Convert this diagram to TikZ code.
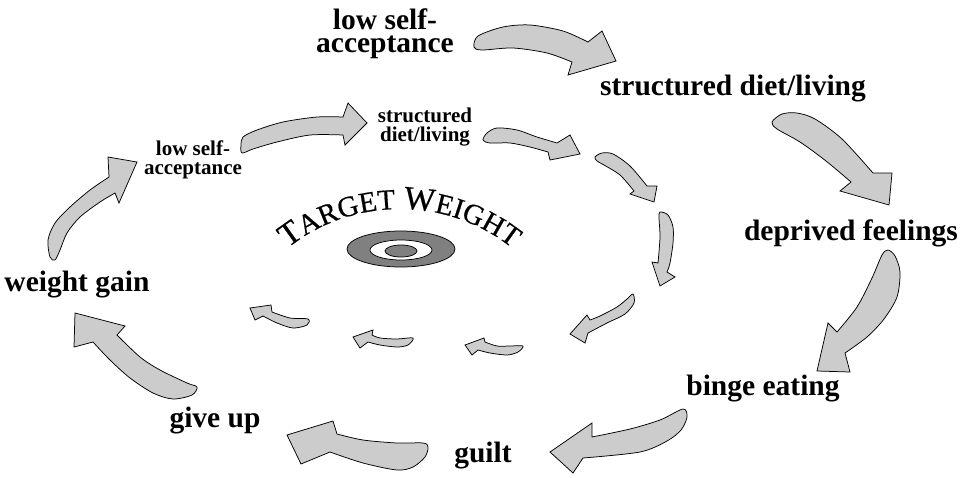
\documentclass[tikz,border=0pt]{standalone}
\usepackage{fontspec}
\setmainfont{Liberation Serif}
\newfontfamily\tgtfont[FakeBold=0.6]{Liberation Serif}
\usetikzlibrary{decorations.text}
\definecolor{arrgray}{gray}{0.8}
\definecolor{tgtgray}{gray}{0.5}
\tikzset{
  arr/.style={draw=black, line width=0.75pt, fill=arrgray, line join=miter},
  biglabel/.style={font=\fontsize{29.5}{23}\selectfont\bfseries, inner sep=0pt, align=center},
  smalllabel/.style={font=\fontsize{21}{19.5}\selectfont\bfseries, inner sep=0pt, align=center},
  ring/.style={draw=black, line width=0.75pt}
}
\begin{document}
\begin{tikzpicture}[x=1pt,y=-1pt]
\useasboundingbox (0,0) rectangle (971,477);

% ---------- labels ----------
\node[biglabel] (lsaBig) at (385,34) {low self-\\acceptance};
\node[biglabel, anchor=base] (sdlBig) at (733,95) {structured diet/living};
\node[biglabel, anchor=base] (dep) at (851,240) {deprived feelings};
\node[biglabel, anchor=base] (binge) at (763,395) {binge eating};
\node[biglabel, anchor=base] (guilt) at (483,462) {guilt};
\node[biglabel, anchor=base] (giveup) at (215,427) {give up};
\node[biglabel, anchor=base] (wgain) at (77,291) {weight gain};
\node[smalllabel] (lsaSmall) at (193,160) {low self-\\acceptance};
\node[smalllabel] (sdlSmall) at (425,127) {structured\\diet/living};

% ---------- target ----------
\draw[ring, fill=tgtgray] (401,249) ellipse [x radius=54pt, y radius=18pt];
\draw[ring, fill=white] (401,250) ellipse [x radius=31pt, y radius=10pt];
\draw[ring, fill=tgtgray] (401,251) ellipse [x radius=16pt, y radius=6pt];
\path[decorate, decoration={text along path, text align=center,
   text={|\tgtfont\fontsize{33}{35}\selectfont|T|\tgtfont\fontsize{29}{31}\selectfont|ARGET |\tgtfont\fontsize{33}{35}\selectfont|W|\tgtfont\fontsize{29}{31}\selectfont|EIGHT}}]
   (262.1,273.3) .. controls (334.0,187.6) and (466.0,187.6) .. (537.9,273.3);

% ---------- outer arrows ----------
% A1 acceptance -> structured diet/living
\draw[arr] plot[smooth] coordinates {(572,62) (547,53) (513,48) (482,50) (474,47) (478,36) (503,27) (530,25) (563,31) (588,42)}
  -- (602,31) -- (616,61) -- (568,75) -- cycle;
% A2 structured -> deprived
\draw[arr] plot[smooth] coordinates {(851,182) (826,161) (800,142) (777,129) (772,122) (782,114) (797,113) (815,119) (842,139) (873,173)}
  -- (892,173) -- (889,205) -- (840,191) -- cycle;
% A3 deprived -> binge
\draw[arr] plot[smooth] coordinates {(845,353) (867,337) (884,319) (897,297) (900,272) (895,256) (888,250) (882,255) (872,278) (857,307) (837,332)}
  -- (828,323) -- (817,371) -- (850,372) -- cycle;
% A4 binge -> guilt
\draw[arr] plot[smooth] coordinates {(583,458) (640,452) (667,441) (681,430) (687,417) (683,409) (660,420) (630,429) (592,437)}
  -- (592,423) -- (550,452) -- (573,473) -- cycle;
% A5 guilt -> give up
\draw[arr] plot[smooth] coordinates {(330,452) (363,463) (397,470) (413,467) (425,457) (428,447) (423,443) (397,443) (363,440) (337,434)}
  -- (333,421) -- (287,435) -- (301,464) -- cycle;
% A6 give up -> weight gain
\draw[arr] plot[smooth] coordinates {(93,342) (110,360) (130,378) (153,393) (173,399) (192,395) (197,387) (187,383) (160,370) (140,357) (117,335)}
  -- (125,326) -- (75,313) -- (74,347) -- cycle;
% A7 weight gain -> low self-acceptance (small)
\draw[arr] plot[smooth] coordinates {(115,193) (100,202) (80,217) (67,233) (60,250) (55,260) (50,257) (48,240) (55,223) (70,207) (90,190) (109,177)}
  -- (108,157) -- (137,162) -- (119,203) -- cycle;
% A8 acceptance (small) -> structured (small)
\draw[arr] plot[smooth] coordinates {(343,135) (310,135) (277,142) (253,149) (242,153) (241,145) (243,137) (257,130) (283,122) (317,117) (343,117)}
  -- (348,103) -- (367,123) -- (345,145) -- cycle;

% ---------- inner arrows ----------
% B1
\draw[arr] plot[smooth] coordinates {(548,152) (530,147) (510,143) (490,143) (483,140) (487,133) (497,128) (517,130) (537,137) (557,143)}
  -- (570,135) -- (580,154) -- (550,160) -- cycle;
% B2
\draw[arr] plot[smooth] coordinates {(634,191) (620,175) (604,165) (597,161) (595,157) (602,153) (613,154) (630,166) (647,186)}
  -- (657,186) -- (654,202) -- (630,194) -- cycle;
% B3
\draw[arr] plot[smooth] coordinates {(658,263) (660,237) (659,218) (660,212) (668,215) (673,227) (673,243) (670,263) (667,272)}
  -- (675,277) -- (660,286) -- (652,262) -- cycle;
% B4
\draw[arr] plot[smooth] coordinates {(588,333) (607,323) (625,314) (634,303) (633,294) (627,299) (617,307) (600,316) (590,320)}
  -- (587,315) -- (570,334) -- (585,343) -- cycle;
% B5
\draw[arr] plot[smooth] coordinates {(478,350) (490,353) (507,355) (518,352) (523,346) (510,346) (497,346) (485,342)}
  -- (484,338) -- (465,345) -- (472,355) -- cycle;
% B6
\draw[arr] plot[smooth] coordinates {(368,342) (380,345) (397,347) (408,345) (413,338) (397,339) (380,338) (372,335)}
  -- (373,330) -- (353,337) -- (360,348) -- cycle;
% B7
\draw[arr] plot[smooth] coordinates {(263,316) (277,323) (293,328) (307,325) (308,319) (290,318) (272,312)}
  -- (271,305) -- (250,308) -- (255,320) -- cycle;
\end{tikzpicture}
\end{document}
